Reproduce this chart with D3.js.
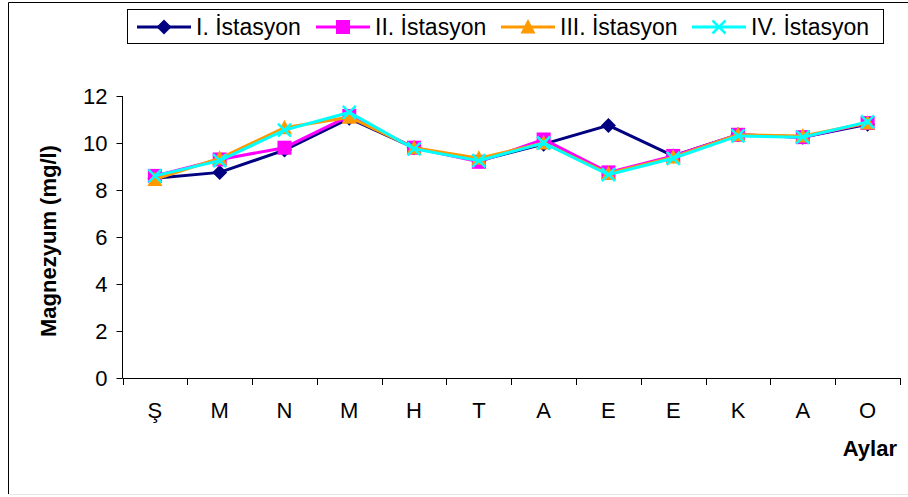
<!DOCTYPE html>
<html>
<head>
<meta charset="utf-8">
<script src="https://cdn.jsdelivr.net/npm/d3@7"></script>
<style>
  html, body { margin: 0; padding: 0; background: #fff; }
  svg { display: block; font-family: "Liberation Sans", Arial, sans-serif; }
</style>
</head>
<body>
<svg id="chart" width="908" height="497"></svg>
<script>
// Months (initials) along the x axis
const months = ["Ş", "M", "N", "M", "H", "T", "A", "E", "E", "K", "A", "O"];
// Magnesium concentration (mg/l) per station
const station1 = [8.5, 8.75, 9.7, 11.05, 9.8, 9.25, 9.95, 10.75, 9.45, 10.35, 10.25, 10.8];
const station2 = [8.6, 9.3, 9.8, 11.15, 9.8, 9.2, 10.15, 8.75, 9.45, 10.35, 10.25, 10.85];
const station3 = [8.45, 9.35, 10.65, 11.1, 9.8, 9.35, 10.0, 8.7, 9.4, 10.35, 10.3, 10.85];
const station4 = [8.6, 9.25, 10.55, 11.3, 9.75, 9.25, 10.0, 8.65, 9.35, 10.3, 10.25, 10.9];
const seriesNames = ["I. İstasyon", "II. İstasyon", "III. İstasyon", "IV. İstasyon"];
const yTicks = [0, 2, 4, 6, 8, 10, 12];

const series = [
  { name: seriesNames[0], values: station1, color: "#000080", symbol: "diamond" },
  { name: seriesNames[1], values: station2, color: "#ff00ff", symbol: "square" },
  { name: seriesNames[2], values: station3, color: "#ff9900", symbol: "triangle" },
  { name: seriesNames[3], values: station4, color: "#00ffff", symbol: "cross" }
];

const svg = d3.select("#chart");

// outer frame
svg.append("line").attr("x1", 8.5).attr("x2", 8.5).attr("y1", 2.5).attr("y2", 494).attr("stroke", "#000");
svg.append("line").attr("x1", 8.5).attr("x2", 908).attr("y1", 2.5).attr("y2", 2.5).attr("stroke", "#000");
svg.append("line").attr("x1", 8.5).attr("x2", 908).attr("y1", 494.5).attr("y2", 494.5).attr("stroke", "#e6e6e6");

const plot = { left: 122.5, right: 900, top: 96, bottom: 378 };

const x = d3.scaleBand().domain(d3.range(months.length)).range([plot.left, plot.right]);
const y = d3.scaleLinear().domain([0, 12]).range([plot.bottom, plot.top]);
const cx = i => x(i) + x.bandwidth() / 2;

// y axis
const yAxis = svg.append("g")
  .attr("transform", `translate(${plot.left},0)`)
  .call(d3.axisLeft(y).tickValues(yTicks).tickSize(6).tickPadding(9).tickFormat(d3.format("d")));
yAxis.select(".domain").attr("stroke", "#000").attr("d", `M0,${plot.top}V${plot.bottom}`);
yAxis.selectAll(".tick line").attr("stroke", "#000");
yAxis.selectAll("text").attr("font-size", 22).attr("fill", "#000")
  .attr("font-family", "'Liberation Sans', Arial, sans-serif");

// x axis: ticks on band boundaries, labels centered in bands
const xAxisG = svg.append("g").attr("transform", `translate(0,${plot.bottom})`);
xAxisG.append("line").attr("x1", plot.left).attr("x2", plot.right).attr("y1", 0.5).attr("y2", 0.5).attr("stroke", "#000");
const bounds = d3.range(months.length + 1).map(i => i < months.length ? x(i) : plot.right);
xAxisG.selectAll("line.tk").data(bounds).join("line").attr("class", "tk")
  .attr("x1", d => Math.round(d) + 0.5).attr("x2", d => Math.round(d) + 0.5)
  .attr("y1", 0).attr("y2", 7).attr("stroke", "#000");
xAxisG.selectAll("text").data(months).join("text")
  .attr("x", (d, i) => cx(i)).attr("y", 40)
  .attr("text-anchor", "middle").attr("font-size", 22).attr("fill", "#000")
  .text(d => d);

// axis titles
svg.append("text").attr("x", 897).attr("y", 456).attr("text-anchor", "end")
  .attr("font-size", 22).attr("font-weight", "bold").text("Aylar");
svg.append("text").attr("transform", `translate(56,${(plot.top + plot.bottom) / 2 + 4}) rotate(-90)`)
  .attr("text-anchor", "middle").attr("font-size", 22).attr("font-weight", "bold")
  .text("Magnezyum (mg/l)");

// marker drawing
function drawMarker(g, type, color) {
  if (type === "diamond") {
    g.append("path").attr("d", "M0,-7.5L7.5,0L0,7.5L-7.5,0Z").attr("fill", color);
  } else if (type === "square") {
    g.append("rect").attr("x", -7).attr("y", -7).attr("width", 14).attr("height", 14).attr("fill", color);
  } else if (type === "triangle") {
    g.append("path").attr("d", "M0,-8L7.5,6.5L-7.5,6.5Z").attr("fill", color);
  } else {
    g.append("path").attr("d", "M-6.5,-6.5L6.5,6.5M-6.5,6.5L6.5,-6.5").attr("stroke", color).attr("stroke-width", 2.5).attr("fill", "none");
  }
}

const line = d3.line().x((d, i) => cx(i)).y(d => y(d));

series.forEach(s => {
  const g = svg.append("g");
  g.append("path").datum(s.values).attr("d", line)
    .attr("fill", "none").attr("stroke", s.color).attr("stroke-width", 3);
  s.values.forEach((v, i) => {
    const m = g.append("g").attr("transform", `translate(${cx(i)},${y(v)})`);
    drawMarker(m, s.symbol, s.color);
  });
});

// legend
const legend = svg.append("g");
legend.append("rect").attr("x", 127.5).attr("y", 9.5).attr("width", 756).attr("height", 34)
  .attr("fill", "#fff").attr("stroke", "#000");
const legendX = [137, 316, 501, 692];
series.forEach((s, i) => {
  const g = legend.append("g").attr("transform", `translate(${legendX[i]},27)`);
  g.append("line").attr("x1", 0).attr("x2", 54).attr("y1", 0).attr("y2", 0)
    .attr("stroke", s.color).attr("stroke-width", 3);
  drawMarker(g.append("g").attr("transform", "translate(27,0)"), s.symbol, s.color);
  g.append("text").attr("x", 59).attr("y", 8).attr("font-size", 23).attr("fill", "#000").text(s.name);
});
</script>
</body>
</html>
